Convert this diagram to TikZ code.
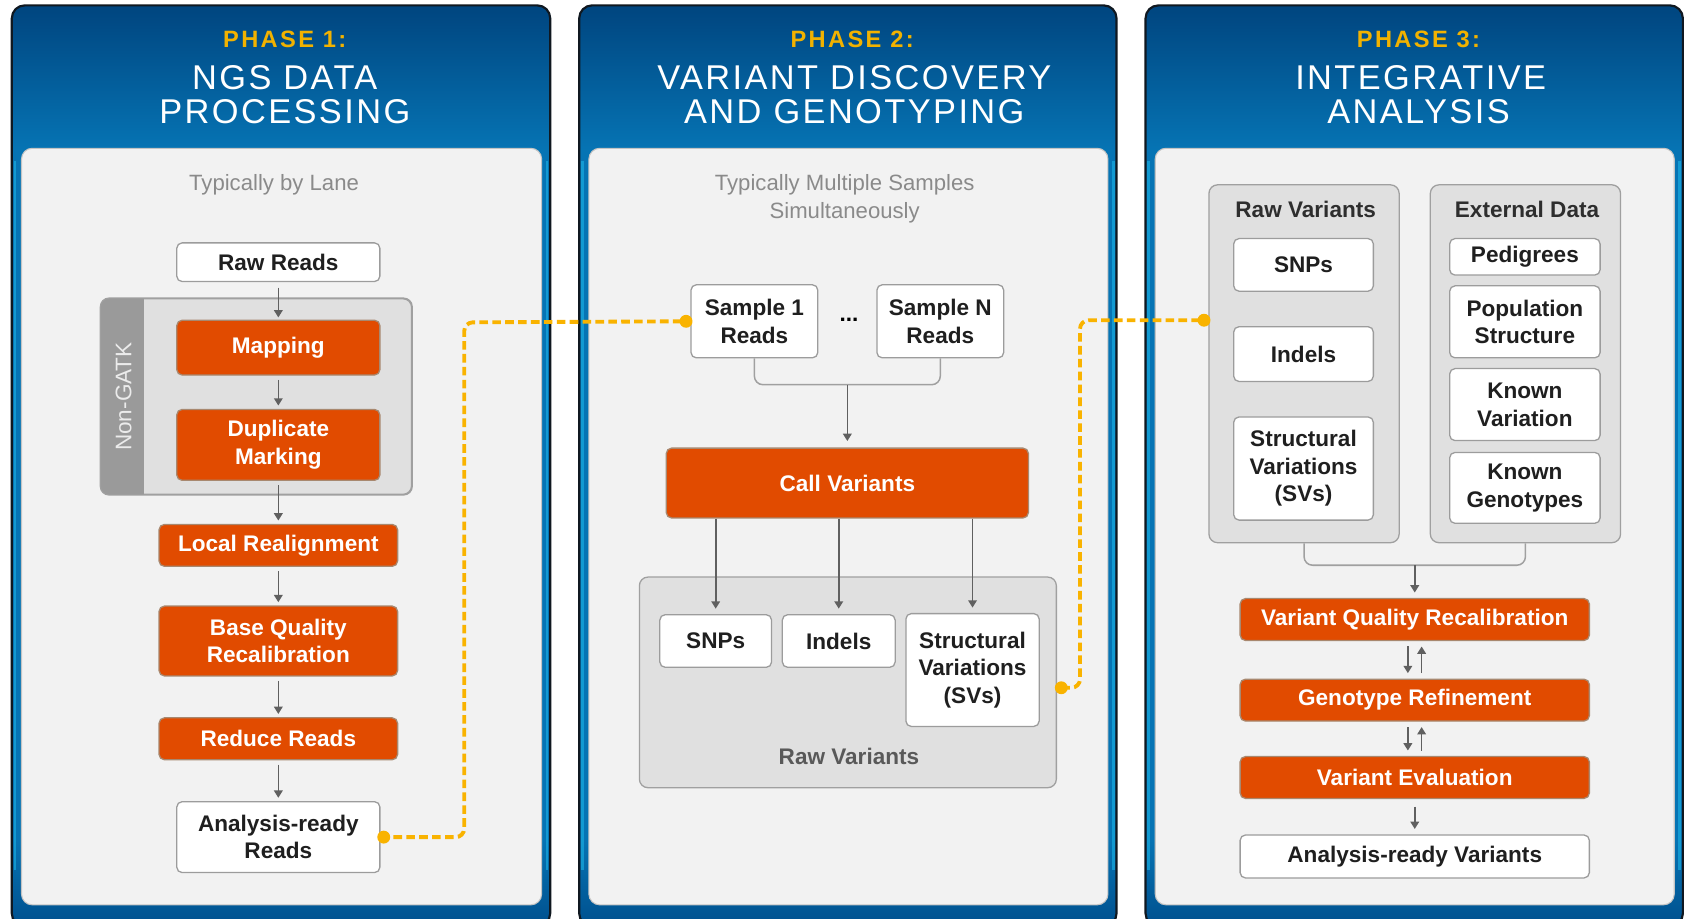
\documentclass[tikz,border=0pt]{standalone}
\usepackage{fontspec}
\setmainfont{Liberation Sans}
\usetikzlibrary{arrows.meta,calc}
\definecolor{orng}{HTML}{E14B00}
\definecolor{oline}{HTML}{A8886F}
\definecolor{gold}{HTML}{F2B200}
\definecolor{dashc}{HTML}{F9B300}
\definecolor{ptop}{HTML}{00457F}
\definecolor{pmid}{HTML}{0674B4}
\definecolor{pbot}{HTML}{00508E}
\definecolor{pedge}{HTML}{101820}
\definecolor{plight}{HTML}{F2F2F2}
\definecolor{plline}{HTML}{C4C4C4}
\definecolor{grpfill}{HTML}{E0E0E0}
\definecolor{grpline}{HTML}{A0A0A0}
\definecolor{stripc}{HTML}{9A9A9A}
\definecolor{boxline}{HTML}{9C9C9C}
\definecolor{arrc}{HTML}{606060}
\definecolor{txtgray}{HTML}{8A8A8A}
\definecolor{sidecyan}{HTML}{1CB4E6}

\newcommand\bxf{\fontsize{10.5}{12.8}\selectfont\bfseries}

\newcommand\drawpanel[2]{%
  \begin{scope}
    \clip[rounded corners=6pt] (#1,5) rectangle (#2,862);
    \fill[pmid] (#1,5) rectangle (#2,862);
    \shade[top color=ptop, bottom color=pmid] (#1,5) rectangle (#2,140);
    \shade[top color=pmid, bottom color=pbot] (#1,780) rectangle (#2,862);
    \draw[sidecyan, line width=1.2pt, opacity=0.6] (#1+3,150) -- (#1+3,810);
    \draw[sidecyan, line width=1.2pt, opacity=0.6] (#2-3,150) -- (#2-3,810);
  \end{scope}
  \draw[line width=1pt, draw=pedge, rounded corners=6pt] (#1,5) rectangle (#2,862);
  \filldraw[fill=plight, draw=plline, line width=0.5pt, rounded corners=5pt] (#1+9,138) rectangle (#2-8,842);
}

\tikzset{
  wbox/.style={draw=boxline, fill=white, line width=0.6pt, rounded corners=2.5pt, inner sep=0pt, align=center, font=\bxf, text=black!88},
  obox/.style={draw=oline, fill=orng, line width=0.6pt, rounded corners=2.5pt, inner sep=0pt, align=center, font=\bxf, text=white},
  grp/.style={draw=grpline, fill=grpfill, line width=0.6pt, rounded corners=4pt, inner sep=0pt},
  arr/.style={draw=arrc, line width=0.75pt, -{Triangle[length=3.4pt,width=4pt]}},
  brk/.style={draw=grpline, line width=0.7pt, rounded corners=4pt},
  dashln/.style={draw=dashc, line width=1.8pt, dash pattern=on 4pt off 2pt, rounded corners=4pt},
  dotc/.style={circle, fill=dashc, inner sep=0pt, minimum size=6pt},
  phs/.style={text=gold, font=\fontsize{11}{13}\selectfont\bfseries\addfontfeature{LetterSpace=10}},
  ttl/.style={text=white, font=\fontsize{16}{16}\selectfont\addfontfeature{LetterSpace=7}},
  subt/.style={text=txtgray, font=\fontsize{10.3}{13}\selectfont, align=center},
  glab/.style={font=\bxf, text=black!82},
}

\begin{document}
\begin{tikzpicture}[x=0.5pt,y=-0.5pt]
\useasboundingbox (0,0) rectangle (1568,855);
\clip (0,0) rectangle (1568,855);
\fill[white] (0,0) rectangle (1568,855);

\drawpanel{11}{512}
\drawpanel{539}{1039}
\drawpanel{1066}{1566}

% ---------------- Phase 1 ----------------
\node[phs] (ph1) at (265,37) {PHASE 1:};
\node[ttl] (t1a) at (265,72) {NGS DATA};
\node[ttl] (t1b) at (265,104) {PROCESSING};
\node[subt] (sub1) at (255,172) {Typically by Lane};

\node[grp, minimum width=144.5pt, minimum height=91pt] (ngrp) at (238.5,369) {};
\begin{scope}
  \clip[rounded corners=4pt] (ngrp.north west) rectangle (ngrp.south east);
  \fill[stripc] (ngrp.north west) rectangle ([xshift=20.5pt]ngrp.south west);
\end{scope}
\draw[grpline, line width=0.6pt, rounded corners=4pt] (ngrp.north west) rectangle (ngrp.south east);
\node[rotate=90, text=white!92!black, font=\fontsize{10.5}{12}\selectfont] (ngl) at (115,369) {Non-GATK};

\node[wbox, minimum width=94.5pt, minimum height=18pt] (raw) at (259,244) {Raw Reads};
\node[obox, minimum width=94.5pt, minimum height=25.5pt] (map) at (259,323.5) {Mapping};
\node[obox, minimum width=94.5pt, minimum height=33pt] (dup) at (259,414) {Duplicate\\Marking};
\node[obox, minimum width=111pt, minimum height=19.5pt] (lra) at (259,507.5) {Local Realignment};
\node[obox, minimum width=111pt, minimum height=32.5pt] (bqr) at (259,596.5) {Base Quality\\Recalibration};
\node[obox, minimum width=111pt, minimum height=19.5pt] (rdr) at (259,687.5) {Reduce Reads};
\node[wbox, minimum width=94.5pt, minimum height=33pt] (ardy) at (259,779) {Analysis-ready\\Reads};

\draw[arr, shorten <=2.5pt, shorten >=1pt] (raw) -- (map);
\draw[arr, shorten <=2pt, shorten >=1.5pt] (map) -- (dup);
\draw[arr, shorten <=2pt, shorten >=1.5pt] (dup) -- (lra);
\draw[arr, shorten <=2pt, shorten >=1.5pt] (lra) -- (bqr);
\draw[arr, shorten <=2pt, shorten >=1.5pt] (bqr) -- (rdr);
\draw[arr, shorten <=2pt, shorten >=1.5pt] (rdr) -- (ardy);

% ---------------- Phase 2 ----------------
\node[phs] (ph2) at (793,37) {PHASE 2:};
\node[ttl] (t2a) at (795,72) {VARIANT DISCOVERY};
\node[ttl] (t2b) at (795,104) {AND GENOTYPING};
\node[subt] (sub2) at (786,185) {Typically Multiple Samples\\Simultaneously};

\node[wbox, minimum width=59pt, minimum height=34pt] (s1) at (702,299) {Sample 1\\Reads};
\node[wbox, minimum width=59pt, minimum height=34pt] (sN) at (875,299) {Sample N\\Reads};
\node[font=\bxf] (dots) at (790,298) {...};

\node[obox, minimum width=168.5pt, minimum height=32.5pt] (call) at (788.5,449.5) {Call Variants};
\coordinate (bm2) at (788.5,358);
\draw[brk] (s1.south) |- (bm2) -| (sN.south);
\draw[arr, shorten >=3pt] (bm2) -- (call);

\node[grp, minimum width=194pt, minimum height=98pt] (rawgrp) at (789,635) {};
\node[glab, text=black!65] (rawlab) at (790,704) {Raw Variants};
\node[wbox, minimum width=52pt, minimum height=24.5pt] (snp2) at (666,596.5) {SNPs};
\node[wbox, minimum width=52.5pt, minimum height=24.5pt] (ind2) at (780.5,596.5) {Indels};
\node[wbox, minimum width=62pt, minimum height=52.5pt] (sv2) at (905,623.5) {Structural\\Variations\\(SVs)};

\draw[arr, shorten >=2.5pt] (call.south -| snp2.north) -- (snp2.north);
\draw[arr, shorten >=2.5pt] (call.south -| ind2.north) -- (ind2.north);
\draw[arr, shorten >=2.5pt] (call.south -| sv2.north) -- (sv2.north);

% ---------------- Phase 3 ----------------
\node[phs] (ph3) at (1320,37) {PHASE 3:};
\node[ttl] (t3a) at (1322,72) {INTEGRATIVE};
\node[ttl] (t3b) at (1320,104) {ANALYSIS};

\node[grp, minimum width=88.5pt, minimum height=166.5pt] (rvgrp) at (1213.5,338.5) {};
\node[grp, minimum width=88.5pt, minimum height=166.5pt] (edgrp) at (1419.5,338.5) {};
\node[glab] (rvlab) at (1215,195) {Raw Variants};
\node[glab] (edlab) at (1421,195) {External Data};

\node[wbox, minimum width=65pt, minimum height=24.5pt] (snp3) at (1213,246.5) {SNPs};
\node[wbox, minimum width=65pt, minimum height=25.5pt] (ind3) at (1213,329.5) {Indels};
\node[wbox, minimum width=65pt, minimum height=48pt] (sv3) at (1213,436) {Structural\\Variations\\(SVs)};

\node[wbox, minimum width=70pt, minimum height=17pt] (ped) at (1419,239) {Pedigrees};
\node[wbox, minimum width=70pt, minimum height=33.5pt] (pop) at (1419,299.5) {Population\\Structure};
\node[wbox, minimum width=70pt, minimum height=33.5pt] (kv) at (1419,376.5) {Known\\Variation};
\node[wbox, minimum width=70pt, minimum height=33pt] (kg) at (1419,454) {Known\\Genotypes};

\node[obox, minimum width=162.5pt, minimum height=19.5pt] (vqr) at (1316.5,576.5) {Variant Quality Recalibration};
\node[obox, minimum width=162.5pt, minimum height=19.5pt] (gr) at (1316.5,651.5) {Genotype Refinement};
\node[obox, minimum width=162.5pt, minimum height=19.5pt] (ve) at (1316.5,723.5) {Variant Evaluation};
\node[wbox, minimum width=162.5pt, minimum height=20pt] (arv) at (1316.5,797) {Analysis-ready Variants};

\coordinate (bm3) at (1316.5,526);
\draw[brk] (rvgrp.south) |- (bm3) -| (edgrp.south);
\draw[arr, shorten >=2.5pt] (bm3) -- (vqr);

\draw[arr, shorten <=2.5pt, shorten >=2.5pt] ([xshift=-3.2pt]vqr.south) -- ([xshift=-3.2pt]gr.north);
\draw[arr, shorten <=2.5pt, shorten >=2.5pt] ([xshift=3.2pt]gr.north) -- ([xshift=3.2pt]vqr.south);
\draw[arr, shorten <=2.5pt, shorten >=2.5pt] ([xshift=-3.2pt]gr.south) -- ([xshift=-3.2pt]ve.north);
\draw[arr, shorten <=2.5pt, shorten >=2.5pt] ([xshift=3.2pt]ve.north) -- ([xshift=3.2pt]gr.south);
\draw[arr, shorten <=3.5pt, shorten >=2.5pt] (ve) -- (arv);

% ---------------- dashed connectors ----------------
\coordinate (d1) at (432,300);
\draw[dashln] (ardy.east) -| (d1) -- ([xshift=-2pt]s1.west);
\node[dotc] (dot1) at ([xshift=1.5pt]ardy.east) {};
\node[dotc] (dot2) at ([xshift=-2pt]s1.west) {};

\coordinate (d2) at (1005,298);
\draw[dashln] ([xshift=2pt,yshift=-2.5pt]rawgrp.east) -| (d2) -- ([xshift=-2pt]rvgrp.west |- d2);
\node[dotc] (dot3) at ([xshift=2pt,yshift=-2.5pt]rawgrp.east) {};
\node[dotc] (dot4) at ([xshift=-2pt]rvgrp.west |- d2) {};
\end{tikzpicture}
\end{document}
